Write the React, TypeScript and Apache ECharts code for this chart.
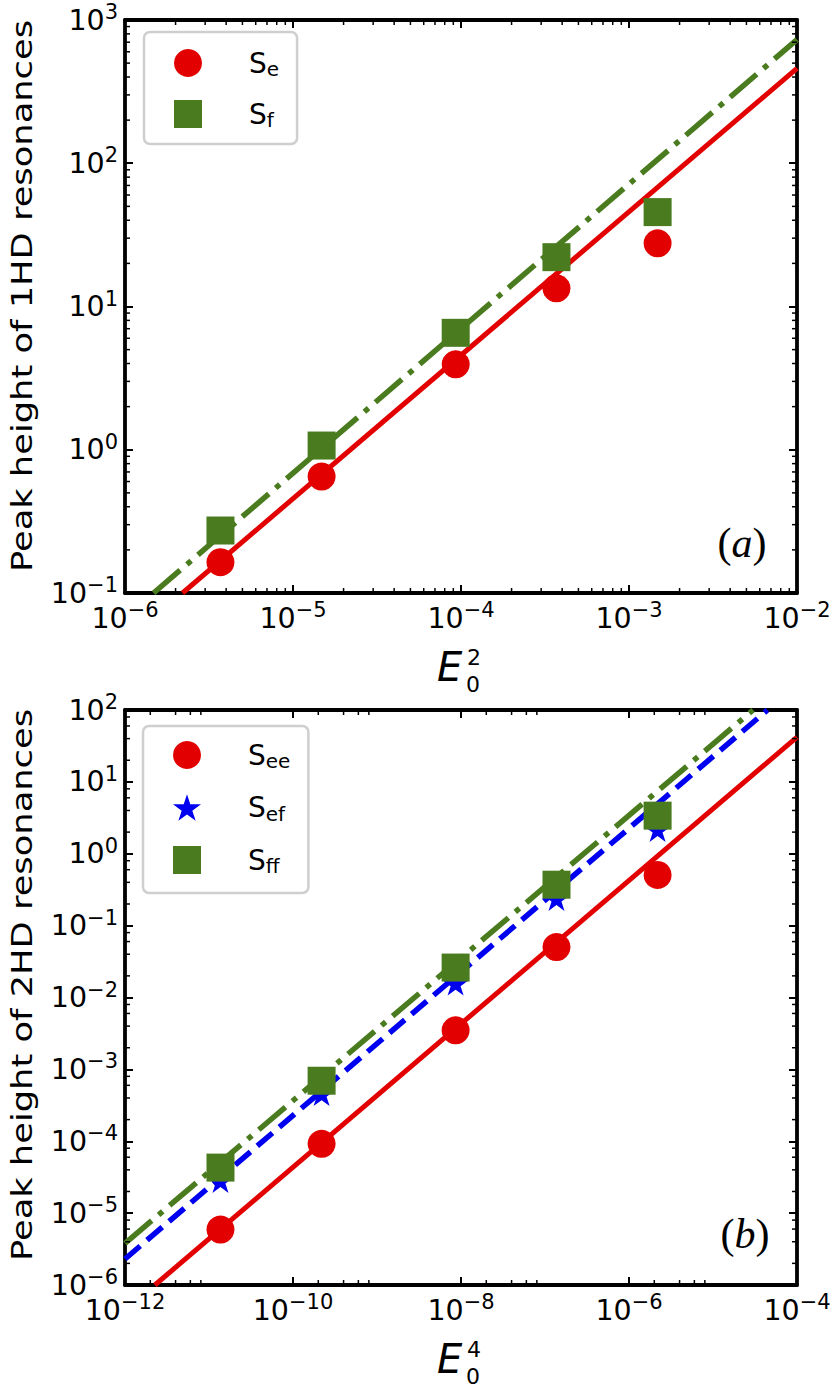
import React, { useEffect, useRef } from "react";
import * as echarts from "echarts";

// ---------- data ----------
// Panel (a): x = E0^2
const xA = [3.7e-6, 1.48e-5, 9.3e-5, 3.7e-4, 1.48e-3];
const seA = [0.164, 0.65, 3.95, 13.4, 27.6];
const sfA = [0.273, 1.07, 6.55, 22.1, 45.6];
const fitSeA = [[2.2e-6, 0.1], [1e-2, 460]];
const fitSfA = [[1.48e-6, 0.1], [1e-2, 730]];

// Panel (b): x = E0^4
const xB = [1.37e-11, 2.19e-10, 8.63e-9, 1.37e-7, 2.19e-6];
const seeB = [5.9e-6, 9.2e-5, 3.5e-3, 0.0503, 0.508];
const sefB = [2.84e-5, 4.58e-4, 0.0158, 0.238, 2.17];
const sffB = [4.3e-5, 6.95e-4, 0.0261, 0.371, 3.39];
const fitSeeB = [[2.27e-12, 1e-6], [1e-4, 42]];
const fitSefB = [[1e-12, 2.3e-6], [4.45e-5, 100]];
const fitSffB = [[1e-12, 3.8e-6], [3.0e-5, 100]];

// axis ranges
const xRangeA = [1e-6, 1e-2];
const yRangeA = [0.1, 1000];
const xRangeB = [1e-12, 1e-4];
const yRangeB = [1e-6, 100];

// minor tick layout (multipliers and decades)
const minorSubsA = [2, 3, 4, 5, 6, 7, 8, 9];
const minorSubsB = [2, 4, 6, 8];
const minorXDecadesA = [-6, -5, -4, -3];
const minorYDecadesA = [-1, 0, 1, 2];
const minorXDecadesB = [-12, -10, -8, -6];
const minorYDecadesB = [-6, -5, -4, -3, -2, -1, 0, 1];

// labels
const legendA = ["Se", "Sf"];
const legendB = ["See", "Sef", "Sff"];
const subText: Record<string, string> = { Se: "e", Sf: "f", See: "ee", Sef: "ef", Sff: "ff" };
const yTitleA = "Peak height of 1HD resonances";
const yTitleB = "Peak height of 2HD resonances";

// ---------- styles ----------
const FONT = "'DejaVu Sans'";
const RED = "#e20000";
const GREEN = "#4a7c1f";
const BLUE = "#0000f0";
const STAR =
  "path://M0,-100L22.4,-30.8L95.1,-30.9L36.2,11.8L58.8,80.9L0,38.1L-58.8,80.9L-36.2,11.8L-95.1,-30.9L-22.4,-30.8Z";

const minorVals = (subs: number[], decs: number[]) => {
  const out: number[] = [];
  decs.forEach((d) => subs.forEach((s) => out.push(Number(`${s}e${d}`))));
  return out;
};

const tickRich = {
  b: { fontSize: 28.5, fontFamily: FONT, color: "#000", lineHeight: 40 },
  s: { fontSize: 21, fontFamily: FONT, color: "#000", lineHeight: 40, padding: [0, 0, 16, 0] },
};
const fmtPow = (v: number) => {
  const e = Math.round(Math.log10(v));
  return `{b|10}{s|${e < 0 ? "\u2212" + -e : String(e)}}`;
};

const axisCommon = (grid: number, min: number, max: number, base: number) => ({
  type: "log",
  gridIndex: grid,
  min,
  max,
  logBase: base,
  splitLine: { show: false },
  minorTick: { show: false },
  minorSplitLine: { show: false },
  axisLine: { show: true, onZero: false, lineStyle: { color: "#000", width: 3.8 } },
  axisTick: { show: true, inside: true, length: 8, lineStyle: { color: "#000", width: 2 } },
});

const xAxes = (grid: number, r: number[], base: number) => [
  {
    ...axisCommon(grid, r[0], r[1], base),
    position: "bottom",
    axisLabel: {
      show: true,
      margin: 5,
      formatter: fmtPow,
      rich: tickRich,
      fontSize: 28.5,
      fontFamily: FONT,
      color: "#000",
      showMinLabel: true,
      showMaxLabel: true,
    },
  },
  { ...axisCommon(grid, r[0], r[1], base), position: "top", axisLabel: { show: false } },
];
const yAxes = (grid: number, r: number[], base: number) => [
  {
    ...axisCommon(grid, r[0], r[1], base),
    position: "left",
    axisLabel: {
      show: true,
      margin: 7,
      formatter: fmtPow,
      rich: tickRich,
      fontSize: 28.5,
      fontFamily: FONT,
      color: "#000",
      showMinLabel: true,
      showMaxLabel: true,
    },
  },
  { ...axisCommon(grid, r[0], r[1], base), position: "right", axisLabel: { show: false } },
];

const MINOR_LEN = 5;
const minorXSeries = (xi: number, yi: number, vals: number[], yr: number[]) => ({
  type: "custom",
  xAxisIndex: xi,
  yAxisIndex: yi,
  silent: true,
  clip: false,
  z: 6,
  encode: { x: 0, y: 1 },
  data: vals.map((v) => [v, yr[0]]),
  renderItem: (_p: any, api: any) => {
    const v = api.value(0);
    const a = api.coord([v, yr[0]]);
    const b = api.coord([v, yr[1]]);
    const st = { stroke: "#000", lineWidth: 1.5 };
    return {
      type: "group",
      children: [
        { type: "line", shape: { x1: a[0], y1: a[1], x2: a[0], y2: a[1] - MINOR_LEN }, style: st },
        { type: "line", shape: { x1: b[0], y1: b[1], x2: b[0], y2: b[1] + MINOR_LEN }, style: st },
      ],
    };
  },
});
const minorYSeries = (xi: number, yi: number, vals: number[], xr: number[]) => ({
  type: "custom",
  xAxisIndex: xi,
  yAxisIndex: yi,
  silent: true,
  clip: false,
  z: 6,
  encode: { x: 0, y: 1 },
  data: vals.map((v) => [xr[0], v]),
  renderItem: (_p: any, api: any) => {
    const v = api.value(1);
    const a = api.coord([xr[0], v]);
    const b = api.coord([xr[1], v]);
    const st = { stroke: "#000", lineWidth: 1.5 };
    return {
      type: "group",
      children: [
        { type: "line", shape: { x1: a[0], y1: a[1], x2: a[0] + MINOR_LEN, y2: a[1] }, style: st },
        { type: "line", shape: { x1: b[0], y1: b[1], x2: b[0] - MINOR_LEN, y2: b[1] }, style: st },
      ],
    };
  },
});

const pts = (xs: number[], ys: number[]) => xs.map((x, i) => [x, ys[i]]);

const scatter = (name: string, xi: number, yi: number, data: number[][], symbol: string, size: number, color: string, z: number) => ({
  type: "scatter",
  name,
  xAxisIndex: xi,
  yAxisIndex: yi,
  data,
  symbol,
  symbolSize: size,
  symbolKeepAspect: true,
  itemStyle: { color, opacity: 1 },
  z,
  silent: true,
});
const fitLine = (xi: number, yi: number, data: number[][], color: string, width: number, type: any, z: number) => ({
  type: "line",
  xAxisIndex: xi,
  yAxisIndex: yi,
  data,
  symbol: "none",
  showSymbol: false,
  clip: true,
  lineStyle: { color, width, type, cap: "butt" },
  z,
  silent: true,
});

const legendRich = {
  s: { fontSize: 28, fontFamily: FONT, color: "#000", lineHeight: 28, padding: [0, 0, 0, 42] },
  u: { fontSize: 20, fontFamily: FONT, color: "#000", lineHeight: 28, padding: [12, 0, 0, 0] },
};
const legendCfg = (names: string[], left: number, top: number, padding: number[], gap: number) => ({
  orient: "vertical",
  left,
  top,
  data: names,
  itemWidth: 28,
  itemHeight: 28,
  itemGap: gap,
  padding,
  borderColor: "#cfcfcf",
  borderWidth: 2.5,
  borderRadius: 6,
  backgroundColor: "#ffffff",
  selectedMode: false,
  formatter: (n: string) => `{s|S}{u|${subText[n]}}`,
  textStyle: { rich: legendRich, lineHeight: 28, fontSize: 28, fontFamily: FONT, color: "#000" },
  z: 20,
});

const txt = (x: number, y: number, text: string, fontSize: number, extra: any = {}) => ({
  type: "text",
  x,
  y,
  z: 30,
  ...(extra.el || {}),
  style: {
    text,
    fontSize,
    fontFamily: FONT,
    fill: "#000",
    align: "left",
    textAlign: "left",
    verticalAlign: "middle",
    textVerticalAlign: "middle",
    ...(extra.style || {}),
  },
});

const yTitle = (cy: number, text: string) =>
  txt(22, cy, text, 28, {
    el: { rotation: Math.PI / 2, scaleX: 1.26 },
    style: { align: "center", textAlign: "center" },
  });

// E with stacked superscript (power) and subscript "0"
const xTitle = (dy: number, sup: string) => [
  txt(437, 667 + dy, "E", 40, { style: { fontStyle: "italic" } }),
  txt(467, 657 + dy, sup, 22, { style: { lineHeight: 24 } }),
  txt(466, 684 + dy, "0", 22, { style: { lineHeight: 24 } }),
];

const panelLabel = (x: number, y: number, letter: string) => ({
  type: "text",
  x,
  y,
  z: 30,
  style: {
    text: `{p|(}{i|${letter}}{p|)}`,
    align: "center",
    textAlign: "center",
    verticalAlign: "middle",
    textVerticalAlign: "middle",
    rich: {
      p: { fontSize: 42, fontFamily: "'Liberation Serif'", fill: "#000", color: "#000" },
      i: { fontSize: 42, fontFamily: "'Liberation Serif'", fontStyle: "italic", fill: "#000", color: "#000" },
    },
  },
});

const option: any = {
  animation: false,
  backgroundColor: "#ffffff",
  textStyle: { fontFamily: FONT },
  grid: [
    { left: 125, top: 20, width: 672, height: 573, containLabel: false, outerBoundsMode: "none" },
    { left: 125, top: 710, width: 672, height: 575, containLabel: false, outerBoundsMode: "none" },
  ],
  xAxis: [...xAxes(0, xRangeA, 10), ...xAxes(1, xRangeB, 100)],
  yAxis: [...yAxes(0, yRangeA, 10), ...yAxes(1, yRangeB, 10)],
  legend: [
    legendCfg(legendA, 144, 32, [15, 18, 14, 30], 19),
    legendCfg(legendB, 143, 726, [13, 18, 17, 30], 20.5),
  ],
  series: [
    // panel (a)
    fitLine(0, 0, fitSeA, RED, 5, "solid", 3),
    fitLine(0, 0, fitSfA, GREEN, 5.5, [35, 9, 5.5, 9], 3),
    scatter("Se", 0, 0, pts(xA, seA), "circle", 28, RED, 4),
    scatter("Sf", 0, 0, pts(xA, sfA), "rect", 28, GREEN, 5),
    minorXSeries(0, 0, minorVals(minorSubsA, minorXDecadesA), yRangeA),
    minorYSeries(0, 0, minorVals(minorSubsA, minorYDecadesA), xRangeA),
    // panel (b)
    fitLine(2, 2, fitSeeB, RED, 5, "solid", 3),
    fitLine(2, 2, fitSefB, BLUE, 5.5, [20, 9], 3),
    fitLine(2, 2, fitSffB, GREEN, 5.5, [35, 9, 5.5, 9], 3),
    scatter("See", 2, 2, pts(xB, seeB), "circle", 28, RED, 4),
    scatter("Sef", 2, 2, pts(xB, sefB), STAR, 26, BLUE, 5),
    scatter("Sff", 2, 2, pts(xB, sffB), "rect", 28, GREEN, 6),
    minorXSeries(2, 2, minorVals(minorSubsB, minorXDecadesB), yRangeB),
    minorYSeries(2, 2, minorVals(minorSubsB, minorYDecadesB), xRangeB),
  ],
  graphic: [
    yTitle(296, yTitleA),
    yTitle(985, yTitleB),
    ...xTitle(0, "2"),
    ...xTitle(692, "4"),
    panelLabel(742, 543, "a"),
    panelLabel(745, 1234, "b"),
  ],
};

export default function App() {
  const ref = useRef<HTMLDivElement>(null);
  useEffect(() => {
    const chart = echarts.init(ref.current!, null, { renderer: "svg", width: 832, height: 1387 });
    chart.setOption(option);
    return () => chart.dispose();
  }, []);
  return (
    <div
      ref={ref}
      style={{ position: "absolute", left: 0, top: 0, width: 832, height: 1387, background: "#fff" }}
    />
  );
}
